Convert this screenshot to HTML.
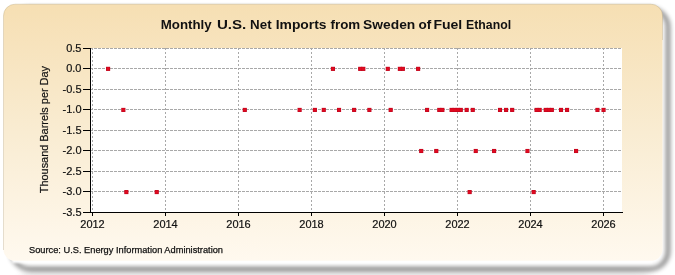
<!DOCTYPE html>
<html><head><meta charset="utf-8"><style>
html,body{margin:0;padding:0;background:#fff;width:675px;height:275px;overflow:hidden}
svg{position:absolute;left:0;top:0;will-change:transform}
text{font-family:"Liberation Sans",sans-serif;fill:#111}
</style></head><body>
<svg width="675" height="275" viewBox="0 0 675 275">
<defs>
<linearGradient id="pg" x1="0" y1="0" x2="0" y2="1">
<stop offset="0" stop-color="#F6DFB3"/><stop offset="0.5" stop-color="#F9ECD2"/><stop offset="1" stop-color="#FFF9EF"/>
</linearGradient>
<filter id="sh" x="-10%" y="-10%" width="120%" height="130%"><feGaussianBlur stdDeviation="2.6 2.7"/></filter>
<filter id="sh2" x="-10%" y="-10%" width="120%" height="130%"><feGaussianBlur stdDeviation="4 5"/></filter>
<filter id="wr" x="-10%" y="-50%" width="120%" height="200%"><feGaussianBlur stdDeviation="1"/></filter>
<filter id="pb" x="-5%" y="-5%" width="110%" height="110%"><feGaussianBlur stdDeviation="0.7"/></filter>
</defs>
<rect x="20" y="269" width="630" height="20" rx="16" fill="#000" opacity="0.08" filter="url(#sh2)"/>
<rect x="12" y="9" width="656" height="260" rx="18" fill="none" stroke="#000" stroke-width="3" opacity="0.7" filter="url(#sh)"/>
<rect x="12" y="255" width="640" height="8" fill="#fff" opacity="1" filter="url(#wr)"/>
<rect x="3.5" y="4.2" width="659" height="256.6" rx="11.5" fill="url(#pg)" filter="url(#pb)"/>
<path d="M3.5,250 L3.5,15.7 A11.5,11.5 0 0 1 15,4.2 L651,4.2 A11.5,11.5 0 0 1 662.5,15.7 L662.5,40" fill="none" stroke="#a89870" stroke-opacity="0.3" stroke-width="1" filter="url(#pb)"/>
<rect x="91" y="48" width="531" height="164" fill="#fff"/>
<g stroke="#a8a8a8" stroke-width="1" fill="none">
<line x1="90" y1="48.5" x2="622" y2="48.5" stroke-dasharray="3,1"/><line x1="90" y1="68.5" x2="622" y2="68.5" stroke-dasharray="3,1"/><line x1="90" y1="89.5" x2="622" y2="89.5" stroke-dasharray="3,1"/><line x1="90" y1="109.5" x2="622" y2="109.5" stroke-dasharray="3,1"/><line x1="90" y1="130.5" x2="622" y2="130.5" stroke-dasharray="3,1"/><line x1="90" y1="150.5" x2="622" y2="150.5" stroke-dasharray="3,1"/><line x1="90" y1="171.5" x2="622" y2="171.5" stroke-dasharray="3,1"/><line x1="90" y1="191.5" x2="622" y2="191.5" stroke-dasharray="3,1"/>
<line x1="92.5" y1="48" x2="92.5" y2="212" stroke-dasharray="2,2"/><line x1="165.5" y1="48" x2="165.5" y2="212" stroke-dasharray="2,2"/><line x1="238.5" y1="48" x2="238.5" y2="212" stroke-dasharray="2,2"/><line x1="311.5" y1="48" x2="311.5" y2="212" stroke-dasharray="2,2"/><line x1="384.5" y1="48" x2="384.5" y2="212" stroke-dasharray="2,2"/><line x1="457.5" y1="48" x2="457.5" y2="212" stroke-dasharray="2,2"/><line x1="530.5" y1="48" x2="530.5" y2="212" stroke-dasharray="2,2"/><line x1="603.5" y1="48" x2="603.5" y2="212" stroke-dasharray="2,2"/>
</g>
<g stroke="#000" stroke-width="1" fill="none" shape-rendering="crispEdges">
<line x1="90.5" y1="48" x2="90.5" y2="213"/>
<line x1="90" y1="212.5" x2="623" y2="212.5"/>
<line x1="83" y1="48.5" x2="90" y2="48.5"/><line x1="83" y1="68.5" x2="90" y2="68.5"/><line x1="83" y1="89.5" x2="90" y2="89.5"/><line x1="83" y1="109.5" x2="90" y2="109.5"/><line x1="83" y1="130.5" x2="90" y2="130.5"/><line x1="83" y1="150.5" x2="90" y2="150.5"/><line x1="83" y1="171.5" x2="90" y2="171.5"/><line x1="83" y1="191.5" x2="90" y2="191.5"/><line x1="83" y1="212.5" x2="90" y2="212.5"/><line x1="92.5" y1="212" x2="92.5" y2="216"/><line x1="165.5" y1="212" x2="165.5" y2="216"/><line x1="238.5" y1="212" x2="238.5" y2="216"/><line x1="311.5" y1="212" x2="311.5" y2="216"/><line x1="384.5" y1="212" x2="384.5" y2="216"/><line x1="457.5" y1="212" x2="457.5" y2="216"/><line x1="530.5" y1="212" x2="530.5" y2="216"/><line x1="603.5" y1="212" x2="603.5" y2="216"/>
</g>
<g fill="#B8001A">
<rect x="106.04" y="66.80" width="4.1" height="4.1"/><rect x="330.90" y="66.80" width="4.1" height="4.1"/><rect x="358.16" y="66.80" width="4.1" height="4.1"/><rect x="361.25" y="66.80" width="4.1" height="4.1"/><rect x="385.72" y="66.80" width="4.1" height="4.1"/><rect x="397.80" y="66.80" width="4.1" height="4.1"/><rect x="400.79" y="66.80" width="4.1" height="4.1"/><rect x="416.07" y="66.80" width="4.1" height="4.1"/><rect x="121.31" y="107.87" width="4.1" height="4.1"/><rect x="242.73" y="107.87" width="4.1" height="4.1"/><rect x="297.55" y="107.87" width="4.1" height="4.1"/><rect x="312.83" y="107.87" width="4.1" height="4.1"/><rect x="321.71" y="107.87" width="4.1" height="4.1"/><rect x="336.99" y="107.87" width="4.1" height="4.1"/><rect x="352.07" y="107.87" width="4.1" height="4.1"/><rect x="367.34" y="107.87" width="4.1" height="4.1"/><rect x="388.61" y="107.87" width="4.1" height="4.1"/><rect x="425.06" y="107.87" width="4.1" height="4.1"/><rect x="437.24" y="107.87" width="4.1" height="4.1"/><rect x="440.33" y="107.87" width="4.1" height="4.1"/><rect x="449.52" y="107.87" width="4.1" height="4.1"/><rect x="452.52" y="107.87" width="4.1" height="4.1"/><rect x="455.61" y="107.87" width="4.1" height="4.1"/><rect x="458.71" y="107.87" width="4.1" height="4.1"/><rect x="464.60" y="107.87" width="4.1" height="4.1"/><rect x="470.69" y="107.87" width="4.1" height="4.1"/><rect x="497.95" y="107.87" width="4.1" height="4.1"/><rect x="504.04" y="107.87" width="4.1" height="4.1"/><rect x="510.13" y="107.87" width="4.1" height="4.1"/><rect x="534.49" y="107.87" width="4.1" height="4.1"/><rect x="537.59" y="107.87" width="4.1" height="4.1"/><rect x="543.68" y="107.87" width="4.1" height="4.1"/><rect x="546.68" y="107.87" width="4.1" height="4.1"/><rect x="549.77" y="107.87" width="4.1" height="4.1"/><rect x="558.96" y="107.87" width="4.1" height="4.1"/><rect x="565.05" y="107.87" width="4.1" height="4.1"/><rect x="595.40" y="107.87" width="4.1" height="4.1"/><rect x="601.49" y="107.87" width="4.1" height="4.1"/><rect x="419.17" y="148.94" width="4.1" height="4.1"/><rect x="434.24" y="148.94" width="4.1" height="4.1"/><rect x="473.68" y="148.94" width="4.1" height="4.1"/><rect x="492.06" y="148.94" width="4.1" height="4.1"/><rect x="525.41" y="148.94" width="4.1" height="4.1"/><rect x="574.03" y="148.94" width="4.1" height="4.1"/><rect x="124.31" y="190.01" width="4.1" height="4.1"/><rect x="154.66" y="190.01" width="4.1" height="4.1"/><rect x="467.59" y="190.01" width="4.1" height="4.1"/><rect x="531.60" y="190.01" width="4.1" height="4.1"/>
</g>
<g fill="#E00A20">
<rect x="106.54" y="67.30" width="3.1" height="3.1"/><rect x="331.40" y="67.30" width="3.1" height="3.1"/><rect x="358.66" y="67.30" width="3.1" height="3.1"/><rect x="361.75" y="67.30" width="3.1" height="3.1"/><rect x="386.22" y="67.30" width="3.1" height="3.1"/><rect x="398.30" y="67.30" width="3.1" height="3.1"/><rect x="401.29" y="67.30" width="3.1" height="3.1"/><rect x="416.57" y="67.30" width="3.1" height="3.1"/><rect x="121.81" y="108.37" width="3.1" height="3.1"/><rect x="243.23" y="108.37" width="3.1" height="3.1"/><rect x="298.05" y="108.37" width="3.1" height="3.1"/><rect x="313.33" y="108.37" width="3.1" height="3.1"/><rect x="322.21" y="108.37" width="3.1" height="3.1"/><rect x="337.49" y="108.37" width="3.1" height="3.1"/><rect x="352.57" y="108.37" width="3.1" height="3.1"/><rect x="367.84" y="108.37" width="3.1" height="3.1"/><rect x="389.11" y="108.37" width="3.1" height="3.1"/><rect x="425.56" y="108.37" width="3.1" height="3.1"/><rect x="437.74" y="108.37" width="3.1" height="3.1"/><rect x="440.83" y="108.37" width="3.1" height="3.1"/><rect x="450.02" y="108.37" width="3.1" height="3.1"/><rect x="453.02" y="108.37" width="3.1" height="3.1"/><rect x="456.11" y="108.37" width="3.1" height="3.1"/><rect x="459.21" y="108.37" width="3.1" height="3.1"/><rect x="465.10" y="108.37" width="3.1" height="3.1"/><rect x="471.19" y="108.37" width="3.1" height="3.1"/><rect x="498.45" y="108.37" width="3.1" height="3.1"/><rect x="504.54" y="108.37" width="3.1" height="3.1"/><rect x="510.63" y="108.37" width="3.1" height="3.1"/><rect x="534.99" y="108.37" width="3.1" height="3.1"/><rect x="538.09" y="108.37" width="3.1" height="3.1"/><rect x="544.18" y="108.37" width="3.1" height="3.1"/><rect x="547.18" y="108.37" width="3.1" height="3.1"/><rect x="550.27" y="108.37" width="3.1" height="3.1"/><rect x="559.46" y="108.37" width="3.1" height="3.1"/><rect x="565.55" y="108.37" width="3.1" height="3.1"/><rect x="595.90" y="108.37" width="3.1" height="3.1"/><rect x="601.99" y="108.37" width="3.1" height="3.1"/><rect x="419.67" y="149.44" width="3.1" height="3.1"/><rect x="434.74" y="149.44" width="3.1" height="3.1"/><rect x="474.18" y="149.44" width="3.1" height="3.1"/><rect x="492.56" y="149.44" width="3.1" height="3.1"/><rect x="525.91" y="149.44" width="3.1" height="3.1"/><rect x="574.53" y="149.44" width="3.1" height="3.1"/><rect x="124.81" y="190.51" width="3.1" height="3.1"/><rect x="155.16" y="190.51" width="3.1" height="3.1"/><rect x="468.09" y="190.51" width="3.1" height="3.1"/><rect x="532.10" y="190.51" width="3.1" height="3.1"/>
</g>
<g font-size="11.6" stroke="#111" stroke-width="0.2">
<text x="81.5" y="51.7" text-anchor="end" textLength="15.29" lengthAdjust="spacingAndGlyphs">0.5</text><text x="81.5" y="71.7" text-anchor="end" textLength="15.29" lengthAdjust="spacingAndGlyphs">0.0</text><text x="81.5" y="92.7" text-anchor="end" textLength="18.95" lengthAdjust="spacingAndGlyphs">-0.5</text><text x="81.5" y="112.7" text-anchor="end" textLength="18.95" lengthAdjust="spacingAndGlyphs">-1.0</text><text x="81.5" y="133.7" text-anchor="end" textLength="18.95" lengthAdjust="spacingAndGlyphs">-1.5</text><text x="81.5" y="153.7" text-anchor="end" textLength="18.95" lengthAdjust="spacingAndGlyphs">-2.0</text><text x="81.5" y="174.7" text-anchor="end" textLength="18.95" lengthAdjust="spacingAndGlyphs">-2.5</text><text x="81.5" y="194.7" text-anchor="end" textLength="18.95" lengthAdjust="spacingAndGlyphs">-3.0</text><text x="81.5" y="215.7" text-anchor="end" textLength="18.95" lengthAdjust="spacingAndGlyphs">-3.5</text>
<text x="92.5" y="227.6" text-anchor="middle" textLength="24.46" lengthAdjust="spacingAndGlyphs">2012</text><text x="165.5" y="227.6" text-anchor="middle" textLength="24.46" lengthAdjust="spacingAndGlyphs">2014</text><text x="238.5" y="227.6" text-anchor="middle" textLength="24.46" lengthAdjust="spacingAndGlyphs">2016</text><text x="311.5" y="227.6" text-anchor="middle" textLength="24.46" lengthAdjust="spacingAndGlyphs">2018</text><text x="384.5" y="227.6" text-anchor="middle" textLength="24.46" lengthAdjust="spacingAndGlyphs">2020</text><text x="457.5" y="227.6" text-anchor="middle" textLength="24.46" lengthAdjust="spacingAndGlyphs">2022</text><text x="530.5" y="227.6" text-anchor="middle" textLength="24.46" lengthAdjust="spacingAndGlyphs">2024</text><text x="603.5" y="227.6" text-anchor="middle" textLength="24.46" lengthAdjust="spacingAndGlyphs">2026</text>
</g>
<g font-size="13.5" font-weight="bold"><text x="160.8" y="29" textLength="50.9" lengthAdjust="spacingAndGlyphs">Monthly</text><text x="216.9" y="29" textLength="29.4" lengthAdjust="spacingAndGlyphs">U.S.</text><text x="250.1" y="29" textLength="21.5" lengthAdjust="spacingAndGlyphs">Net</text><text x="275.7" y="29" textLength="50.9" lengthAdjust="spacingAndGlyphs">Imports</text><text x="330.5" y="29" textLength="29.7" lengthAdjust="spacingAndGlyphs">from</text><text x="363.1" y="29" textLength="52.2" lengthAdjust="spacingAndGlyphs">Sweden</text><text x="418.4" y="29" textLength="12.8" lengthAdjust="spacingAndGlyphs">of</text><text x="433.4" y="29" textLength="28.9" lengthAdjust="spacingAndGlyphs">Fuel</text><text x="466.1" y="29" textLength="45.0" lengthAdjust="spacingAndGlyphs">Ethanol</text></g>
<text transform="translate(48.3,129.6) rotate(-90)" text-anchor="middle" font-size="11" textLength="127.2" lengthAdjust="spacingAndGlyphs" stroke="#111" stroke-width="0.2">Thousand Barrels per Day</text>
<text x="29" y="252.5" font-size="9.2" textLength="194" lengthAdjust="spacingAndGlyphs" stroke="#111" stroke-width="0.25">Source: U.S. Energy Information Administration</text>
</svg>
</body></html>
